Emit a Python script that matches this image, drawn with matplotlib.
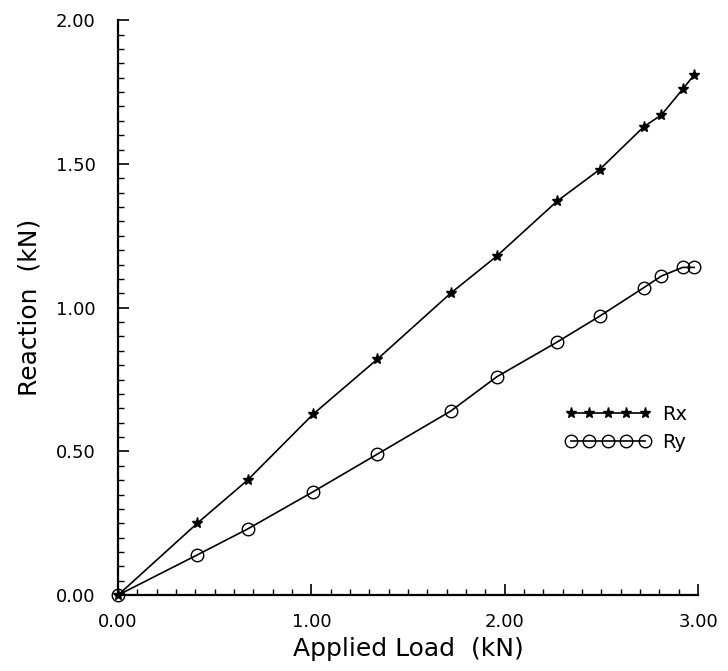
import matplotlib.pyplot as plt
from matplotlib.ticker import MultipleLocator, FormatStrFormatter

# applied load (kN) and reactions (kN)
load = [0.0, 0.41, 0.67, 1.01, 1.34, 1.72, 1.96, 2.27, 2.49, 2.72, 2.81, 2.92, 2.98]
rx = [0.0, 0.25, 0.40, 0.63, 0.82, 1.05, 1.18, 1.37, 1.48, 1.63, 1.67, 1.76, 1.81]
ry = [0.0, 0.14, 0.23, 0.36, 0.49, 0.64, 0.76, 0.88, 0.97, 1.07, 1.11, 1.14, 1.14]

fig = plt.figure(figsize=(7.28, 6.71), dpi=100)
ax = fig.add_axes([0.162, 0.113, 0.797, 0.857])

ax.plot(load, rx, color="black", lw=1.2, marker="*", ms=8, label="Rx", clip_on=False)
ax.plot(load, ry, color="black", lw=1.2, marker="o", ms=9, mfc="none", mew=1.0,
        label="Ry", clip_on=False)

ax.set_xlim(0, 3)
ax.set_ylim(0, 2)
ax.xaxis.set_major_locator(MultipleLocator(1.0))
ax.xaxis.set_minor_locator(MultipleLocator(0.1))
ax.yaxis.set_major_locator(MultipleLocator(0.5))
ax.yaxis.set_minor_locator(MultipleLocator(0.05))
ax.xaxis.set_major_formatter(FormatStrFormatter("%.2f"))
ax.yaxis.set_major_formatter(FormatStrFormatter("%.2f"))
ax.tick_params(which="major", direction="in", length=8, width=1.2, labelsize=13)
ax.tick_params(which="minor", direction="in", length=4, width=1.0)
ax.tick_params(axis="x", which="major", pad=13)
ax.tick_params(axis="y", which="major", pad=16)

for side in ("top", "right"):
    ax.spines[side].set_visible(False)
for side in ("left", "bottom"):
    ax.spines[side].set_linewidth(1.6)

ax.set_xlabel("Applied Load  (kN)", fontsize=18, labelpad=4)
ax.set_ylabel("Reaction  (kN)", fontsize=18, labelpad=10)

ax.legend(loc="center left", bbox_to_anchor=(0.74, 0.29), frameon=False, numpoints=5,
          handlelength=4.4, fontsize=14, labelspacing=0.5, handletextpad=0.6)

fig.savefig("out.png", dpi=100)
plt.close(fig)
